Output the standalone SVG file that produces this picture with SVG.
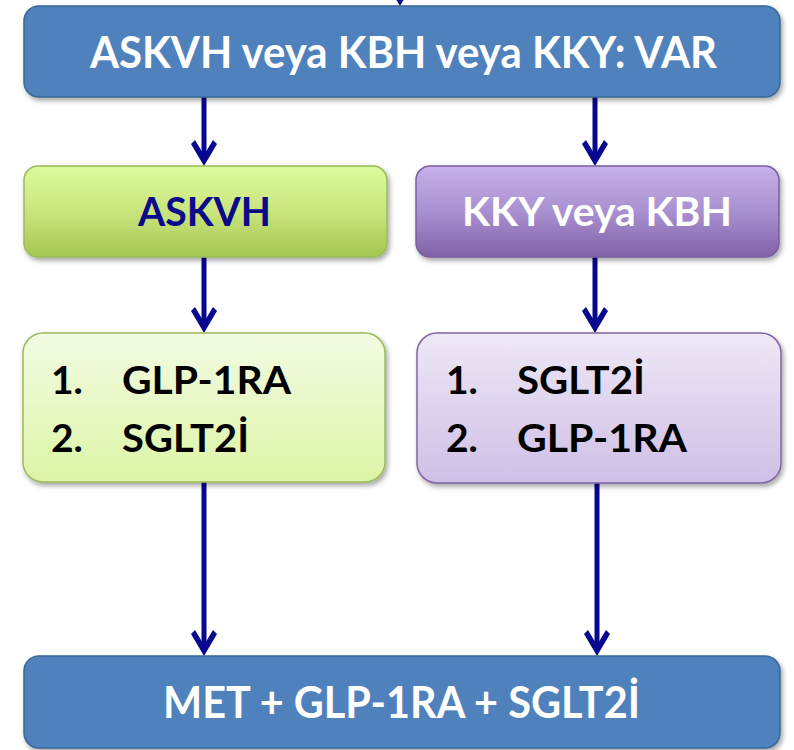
<svg xmlns="http://www.w3.org/2000/svg" width="794" height="750" viewBox="0 0 794 750">
  <defs>
    <style>
      .lbl { font-family: "Lato", "Open Sans", "Liberation Sans", sans-serif; font-weight: bold; }
      .big { font-size: 44px; fill: #ffffff; }
      .mid { font-size: 41px; }
      .list { font-size: 39px; fill: #000000; }
      .conn { stroke: #07078f; stroke-width: 5; fill: none; marker-end: url(#head); }
      .blue { fill: #4f81bd; stroke: #3a6797; stroke-width: 1.5; }
    </style>
    <linearGradient id="gGreen" x1="0" y1="0" x2="0" y2="1">
      <stop offset="0" stop-color="#dcfa9f"/>
      <stop offset="0.5" stop-color="#c9e57d"/>
      <stop offset="1" stop-color="#a6c652"/>
    </linearGradient>
    <linearGradient id="gPurple" x1="0" y1="0" x2="0" y2="1">
      <stop offset="0" stop-color="#c6b1e8"/>
      <stop offset="0.5" stop-color="#a990d0"/>
      <stop offset="1" stop-color="#8061a8"/>
    </linearGradient>
    <linearGradient id="gGreenLight" x1="0" y1="0" x2="0" y2="1">
      <stop offset="0" stop-color="#f3fbe3"/>
      <stop offset="1" stop-color="#ddf5a6"/>
    </linearGradient>
    <linearGradient id="gPurpleLight" x1="0" y1="0" x2="0" y2="1">
      <stop offset="0" stop-color="#eee8f6"/>
      <stop offset="1" stop-color="#cfbfe6"/>
    </linearGradient>
    <filter id="shadow" x="-5%" y="-10%" width="112%" height="130%">
      <feDropShadow dx="2" dy="3" stdDeviation="2.5" flood-color="#000000" flood-opacity="0.35"/>
    </filter>
    <!-- barbed arrowhead, tip placed 8px past the end of the shaft -->
    <marker id="head" viewBox="-28 -15 30 30" refX="-8" refY="0" markerWidth="30" markerHeight="30" markerUnits="userSpaceOnUse" orient="auto">
      <path d="M0,0 L-22,-13 L-26,-9 L-11,0 L-26,9 L-22,13 Z" fill="#07078f"/>
    </marker>
  </defs>

  <!-- connectors -->
  <g id="connectors">
    <path class="conn" d="M400,-40 V-2"/>
    <path class="conn" d="M204,97 V158"/>
    <path class="conn" d="M595,97 V158"/>
    <path class="conn" d="M204,257 V325"/>
    <path class="conn" d="M595,257 V325"/>
    <path class="conn" d="M204,482 V648"/>
    <path class="conn" d="M597,483 V648"/>
  </g>

  <g id="node-top">
    <rect class="blue" x="24" y="6" width="756" height="91" rx="15" filter="url(#shadow)"/>
    <text class="lbl big" x="403.5" y="68" text-anchor="middle" textLength="627" lengthAdjust="spacingAndGlyphs">ASKVH veya KBH veya KKY: VAR</text>
  </g>

  <g id="node-askvh">
    <rect x="24" y="166" width="363" height="91" rx="14" fill="url(#gGreen)" stroke="#9bbb59" stroke-width="1.5" filter="url(#shadow)"/>
    <text class="lbl mid" x="204.5" y="226" text-anchor="middle" fill="#0a0a8a" textLength="133" lengthAdjust="spacingAndGlyphs">ASKVH</text>
  </g>

  <g id="node-kky">
    <rect x="416" y="166" width="363" height="91" rx="14" fill="url(#gPurple)" stroke="#7a5fa0" stroke-width="1.5" filter="url(#shadow)"/>
    <text class="lbl mid" x="597" y="226" text-anchor="middle" fill="#ffffff" textLength="270" lengthAdjust="spacingAndGlyphs">KKY veya KBH</text>
  </g>

  <g id="node-list-left">
    <rect x="23" y="333" width="362" height="149" rx="20" fill="url(#gGreenLight)" stroke="#9bbb59" stroke-width="1.5" filter="url(#shadow)"/>
    <text class="lbl list" x="51" y="394">1.</text>
    <text class="lbl list" x="122" y="394" textLength="169" lengthAdjust="spacingAndGlyphs">GLP-1RA</text>
    <text class="lbl list" x="51" y="452">2.</text>
    <text class="lbl list" x="122" y="452" textLength="127" lengthAdjust="spacingAndGlyphs">SGLT2İ</text>
  </g>

  <g id="node-list-right">
    <rect x="417" y="333" width="364" height="150" rx="20" fill="url(#gPurpleLight)" stroke="#8064a2" stroke-width="1.5" filter="url(#shadow)"/>
    <text class="lbl list" x="446" y="394">1.</text>
    <text class="lbl list" x="517" y="394" textLength="128" lengthAdjust="spacingAndGlyphs">SGLT2İ</text>
    <text class="lbl list" x="446" y="452">2.</text>
    <text class="lbl list" x="517" y="452" textLength="170" lengthAdjust="spacingAndGlyphs">GLP-1RA</text>
  </g>

  <g id="node-bottom">
    <rect class="blue" x="24" y="656" width="756" height="92" rx="15" filter="url(#shadow)"/>
    <text class="lbl big" x="401.5" y="718" text-anchor="middle" textLength="477" lengthAdjust="spacingAndGlyphs">MET + GLP-1RA + SGLT2İ</text>
  </g>
</svg>
